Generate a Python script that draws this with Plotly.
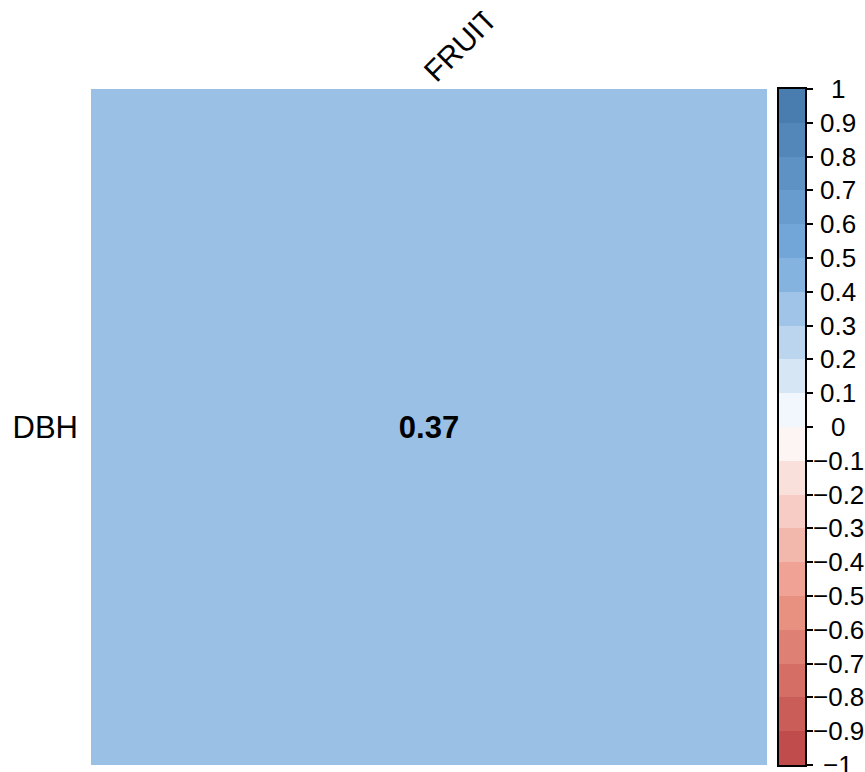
import plotly.graph_objects as go

# ---- data ----
row_labels = ["DBH"]
col_labels = ["FRUIT"]
corr_values = [[0.37]]

palette_stops = [0.0, 0.25, 0.5, 0.75, 1.0]
palette_colors = ["#BB4444", "#EE9988", "#FFFFFF", "#77AADD", "#4477AA"]

legend_bin_edges = [round(-1 + 0.1 * i, 1) for i in range(21)]
legend_tick_vals = [round(-1 + 0.1 * i, 1) for i in range(21)]
legend_tick_text = ["\u22121", "\u22120.9", "\u22120.8", "\u22120.7", "\u22120.6", "\u22120.5",
                    "\u22120.4", "\u22120.3", "\u22120.2", "\u22120.1", "0", "0.1", "0.2",
                    "0.3", "0.4", "0.5", "0.6", "0.7", "0.8", "0.9", "1"]

# ---- figure ----
W, H = 865, 772
FONT = "Liberation Sans, Arial, sans-serif"
colorscale = [[s, c] for s, c in zip(palette_stops, palette_colors)]

plot_x = [91 / W, 767 / W]
plot_y = [(H - 765) / H, (H - 89) / H]
bar_x = [779 / W, 805 / W]

bin_mids = [(a + b) / 2 for a, b in zip(legend_bin_edges[:-1], legend_bin_edges[1:])]

fig = go.Figure()
fig.add_trace(go.Heatmap(
    z=corr_values, x=col_labels, y=row_labels,
    colorscale=colorscale, zmin=-1, zmax=1, showscale=False,
    texttemplate="<b>%{z:.2f}</b>",
    textfont=dict(size=31, color="black", family=FONT),
    hoverinfo="skip",
))
fig.add_trace(go.Heatmap(
    z=[[m] for m in bin_mids], x=[0], y=bin_mids,
    colorscale=colorscale, zmin=-1, zmax=1, showscale=False,
    xaxis="x2", yaxis="y2", hoverinfo="skip",
))

annotations = []
for v, t in zip(legend_tick_vals, legend_tick_text):
    annotations.append(dict(
        x=838 / W, xref="paper", y=v, yref="y2", text=t, showarrow=False,
        xanchor="center", yanchor="middle",
        font=dict(size=26, color="black", family=FONT),
    ))

# the reference clips the top of the rotated column label (figure-region clip)
clip_mask = dict(type="rect", xref="paper", yref="paper", x0=0.4, x1=0.7,
                 y0=1 - 11 / H, y1=1.0, fillcolor="white", line=dict(width=0),
                 layer="above")

fig.update_layout(
    width=W, height=H,
    margin=dict(l=0, r=0, t=0, b=0, autoexpand=False),
    paper_bgcolor="white", plot_bgcolor="white",
    font=dict(family=FONT, color="black"),
    xaxis=dict(domain=plot_x, side="top", tickangle=-45, showgrid=False,
               zeroline=False, ticks="", tickfont=dict(size=30, color="black"),
               ticklabelstandoff=-6, ticklabelshift=-3, automargin=False),
    yaxis=dict(domain=plot_y, showgrid=False, zeroline=False, ticks="",
               tickfont=dict(size=31, color="black"), ticklabelstandoff=12,
               automargin=False),
    xaxis2=dict(domain=bar_x, anchor="y2", showgrid=False, zeroline=False,
                showticklabels=False, ticks="", showline=True, mirror=True,
                linewidth=2, linecolor="black", range=[-0.5, 0.5],
                automargin=False),
    yaxis2=dict(domain=plot_y, anchor="x2", side="right", range=[-1, 1],
                showgrid=False, zeroline=False, showticklabels=False,
                tickvals=legend_tick_vals, ticks="outside", ticklen=6,
                tickwidth=1.5, tickcolor="black", automargin=False,
                showline=True, mirror=True, linewidth=2, linecolor="black"),
    annotations=annotations,
    shapes=[clip_mask],
)

fig.write_html(
    "out.html",
    config={"displayModeBar": False},
    post_script="document.body.style.margin='0';document.body.style.padding='0';"
                "document.documentElement.style.margin='0';"
                "var d=document.getElementById('{plot_id}');"
                "d.style.position='absolute';d.style.top='0px';d.style.left='0px';",
)
